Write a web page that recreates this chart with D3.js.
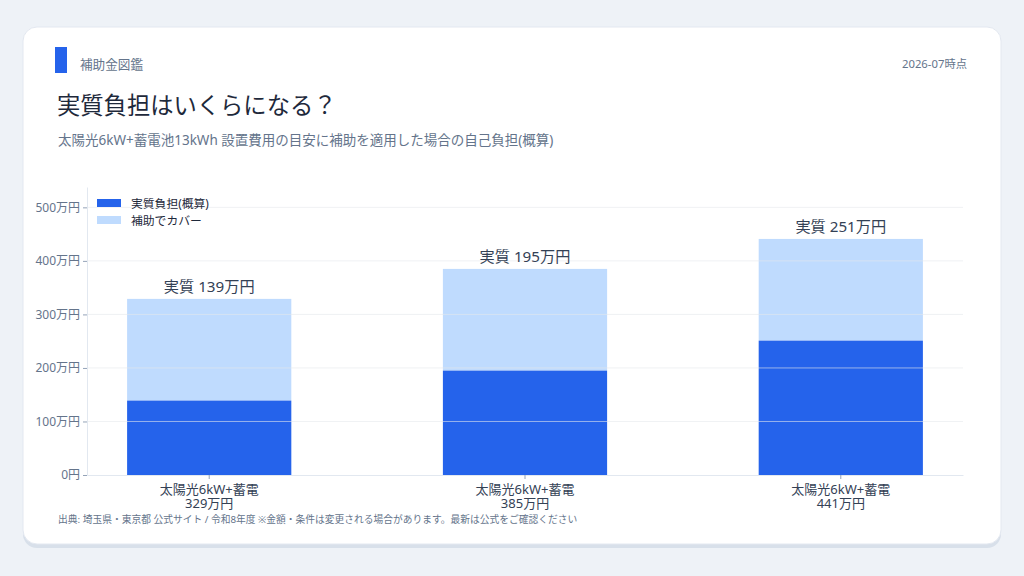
<!DOCTYPE html>
<html>
<head>
<meta charset="utf-8">
<script src="https://cdn.jsdelivr.net/npm/d3@7"></script>
<style>
  body { margin: 0; background: #eef2f7; }
  svg { display: block; font-family: "Noto Sans", "Noto Sans CJK JP", sans-serif; }
</style>
</head>
<body>
<svg id="chart" width="1024" height="576"></svg>
<script>
// chart data
var categories = ["太陽光6kW+蓄電", "太陽光6kW+蓄電", "太陽光6kW+蓄電"];
var totalCost = [329, 385, 441];      // 設置費用の目安 (万円)
var selfBurden = [139, 195, 251];     // 実質負担(概算) (万円)
var yTicks = [0, 100, 200, 300, 400, 500];
var seriesNames = ["実質負担(概算)", "補助でカバー"];

var svg = d3.select("#chart");

// card with shadow
svg.append("rect").attr("x", 23).attr("y", 31).attr("width", 978).attr("height", 517)
  .attr("rx", 14).attr("fill", "#d8e0ea");
svg.append("rect").attr("x", 23).attr("y", 27).attr("width", 978).attr("height", 517)
  .attr("rx", 14).attr("fill", "#fff").attr("stroke", "#e3e8f0");

// header
svg.append("rect").attr("x", 55).attr("y", 47).attr("width", 12).attr("height", 26).attr("fill", "#2563eb");
svg.append("text").attr("x", 80).attr("y", 68.5).attr("font-size", 12.6).attr("fill", "#64748b").text("補助金図鑑");
svg.append("text").attr("x", 967).attr("y", 68).attr("font-size", 11.3).attr("fill", "#64748b")
  .attr("text-anchor", "end").text("2026-07時点");
svg.append("text").attr("x", 57).attr("y", 114).attr("font-size", 23.3).attr("fill", "#1e293b")
  .text("実質負担はいくらになる？");
svg.append("text").attr("x", 58).attr("y", 145).attr("font-size", 13.5).attr("fill", "#64748b")
  .text("太陽光6kW+蓄電池13kWh 設置費用の目安に補助を適用した場合の自己負担(概算)");

// plot area
var plotLeft = 87, plotRight = 963, plotTop = 187, plotBottom = 475;

var x = d3.scaleBand()
  .domain(d3.range(categories.length))
  .range([plotLeft, plotRight])
  .paddingInner(0.48)
  .paddingOuter(0.127);

var y = d3.scaleLinear()
  .domain([0, d3.max(totalCost) * 1.22])
  .range([plotBottom, plotTop]);

var bars = svg.append("g");

// subsidy part (light) on top of self burden
bars.selectAll(".cover")
  .data(totalCost)
  .enter()
  .append("rect")
    .attr("x", function(d, i) { return x(i); })
    .attr("y", function(d) { return y(d); })
    .attr("width", x.bandwidth())
    .attr("height", function(d, i) { return y(selfBurden[i]) - y(d); })
    .attr("fill", "#bfdbfe");

bars.selectAll(".self")
  .data(selfBurden)
  .enter()
  .append("rect")
    .attr("x", function(d, i) { return x(i); })
    .attr("y", function(d) { return y(d); })
    .attr("width", x.bandwidth())
    .attr("height", function(d) { return y(0) - y(d); })
    .attr("fill", "#2563eb");

// gridlines drawn over bars
svg.append("g").selectAll("line")
  .data(yTicks.slice(1))
  .enter()
  .append("line")
    .attr("x1", plotLeft).attr("x2", plotRight)
    .attr("y1", function(d) { return y(d); })
    .attr("y2", function(d) { return y(d); })
    .attr("stroke", "#e5e7eb").attr("stroke-opacity", 0.6);

// y axis
var yAxis = svg.append("g")
  .attr("transform", "translate(" + plotLeft + ",0)")
  .call(d3.axisLeft(y).tickValues(yTicks).tickSize(4).tickSizeOuter(0)
    .tickFormat(function(d) { return d === 0 ? "0円" : d + "万円"; }));
yAxis.select(".domain").attr("stroke", "#e2e8f0");
yAxis.selectAll(".tick line").attr("stroke", "#94a3b8");
yAxis.selectAll("text").attr("fill", "#64748b").attr("font-size", 12)
  .attr("font-family", "'Noto Sans', 'Noto Sans CJK JP', sans-serif");

// x axis
var xAxis = svg.append("g")
  .attr("transform", "translate(0," + plotBottom + ")")
  .call(d3.axisBottom(x).tickSize(4).tickSizeOuter(0).tickFormat(""));
xAxis.select(".domain").attr("stroke", "#e2e8f0");
xAxis.selectAll(".tick line").attr("stroke", "#94a3b8");

var xLabels = svg.append("g").selectAll("text")
  .data(categories)
  .enter()
  .append("text")
    .attr("x", function(d, i) { return x(i) + x.bandwidth() / 2; })
    .attr("y", plotBottom + 18.5)
    .attr("text-anchor", "middle")
    .attr("font-size", 13)
    .attr("fill", "#334155");
xLabels.append("tspan").text(function(d) { return d; });
xLabels.append("tspan")
  .attr("x", function(d, i) { return x(i) + x.bandwidth() / 2; })
  .attr("dy", 14.5)
  .text(function(d, i) { return totalCost[i] + "万円"; });

// value labels above bars
svg.append("g").selectAll("text")
  .data(selfBurden)
  .enter()
  .append("text")
    .attr("x", function(d, i) { return x(i) + x.bandwidth() / 2; })
    .attr("y", function(d, i) { return y(totalCost[i]) - 6.5; })
    .attr("text-anchor", "middle")
    .attr("font-size", 15.2)
    .attr("fill", "#334155")
    .text(function(d) { return "実質 " + d + "万円"; });

// legend
var legend = svg.append("g").selectAll("g")
  .data(seriesNames)
  .enter()
  .append("g")
    .attr("transform", function(d, i) { return "translate(97," + (199 + i * 17) + ")"; });
legend.append("rect").attr("width", 24).attr("height", 8)
  .attr("fill", function(d, i) { return i === 0 ? "#2563eb" : "#bfdbfe"; });
legend.append("text").attr("x", 34).attr("y", 8.5).attr("font-size", 11.8).attr("fill", "#1e293b")
  .text(function(d) { return d; });

// footer
svg.append("text").attr("x", 58).attr("y", 523).attr("font-size", 9.75).attr("fill", "#64748b")
  .text("出典: 埼玉県・東京都 公式サイト / 令和8年度 ※金額・条件は変更される場合があります。最新は公式をご確認ください");
</script>
</body>
</html>
